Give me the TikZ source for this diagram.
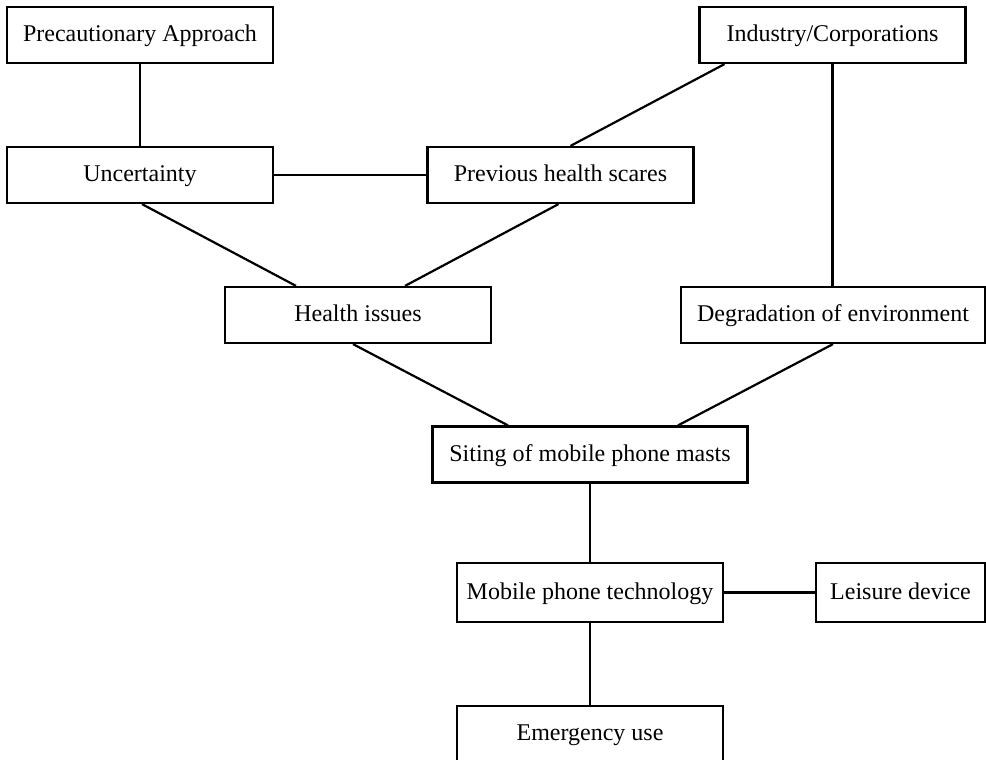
\documentclass[tikz,border=0pt]{standalone}
\usepackage{fontspec}
\setmainfont{Liberation Serif}
\usepackage{tikz}
\usetikzlibrary{positioning}

\begin{document}
\begin{tikzpicture}[x=0.5pt, y=-0.5pt, line width=1.1pt,
    every node/.style={draw, line width=1.1pt, inner sep=0pt, minimum width=133pt,
        minimum height=28pt, text height=1.95ex, text depth=0.45ex,
        font=\fontsize{12pt}{14pt}\selectfont}]
            \useasboundingbox (0, 0) rectangle (986, 760);

            \node at (140, 35)    (prec)    {Precautionary Approach};
            \node at (832.5, 35)  (indus)   {Industry/Corporations};
            \node at (140, 175)   (uncert)  {Uncertainty};
            \node at (560.5, 175) (prev)    {Previous health scares};
            \node at (358, 315)   (health)  {Health issues};
            \node[minimum width=152pt] at (833, 315)     (degrad)  {Degradation of environment};
            \node[minimum width=157.5pt] at (590, 454.5) (siting) {Siting of mobile phone masts};
            \node[minimum height=29.5pt] at (590, 592.5) (mobile)  {Mobile phone technology};
            \node[minimum width=84.5pt, minimum height=29.5pt] at (900.5, 592.5) (leisure) {Leisure device};
            \node at (590, 734)   (emerg)   {Emergency use};

            \draw (prec) -- (uncert);
            \draw (uncert) -- (prev);
            \draw ([xshift=-54pt]indus.south) -- ([xshift=5pt]prev.north);
            \draw (indus.south) -- (indus.south |- degrad.north);
            \draw ([xshift=1pt]uncert.south) -- ([xshift=-31pt]health.north);
            \draw ([xshift=-1pt]prev.south) -- ([xshift=23.5pt]health.north);
            \draw ([xshift=-2.5pt]health.south) -- ([xshift=-41pt]siting.north);
            \draw (degrad.south) -- ([xshift=44pt]siting.north);
            \draw (siting) -- (mobile);
            \draw (mobile) -- (leisure);
            \draw (mobile) -- (emerg);
        \end{tikzpicture}
\end{document}
